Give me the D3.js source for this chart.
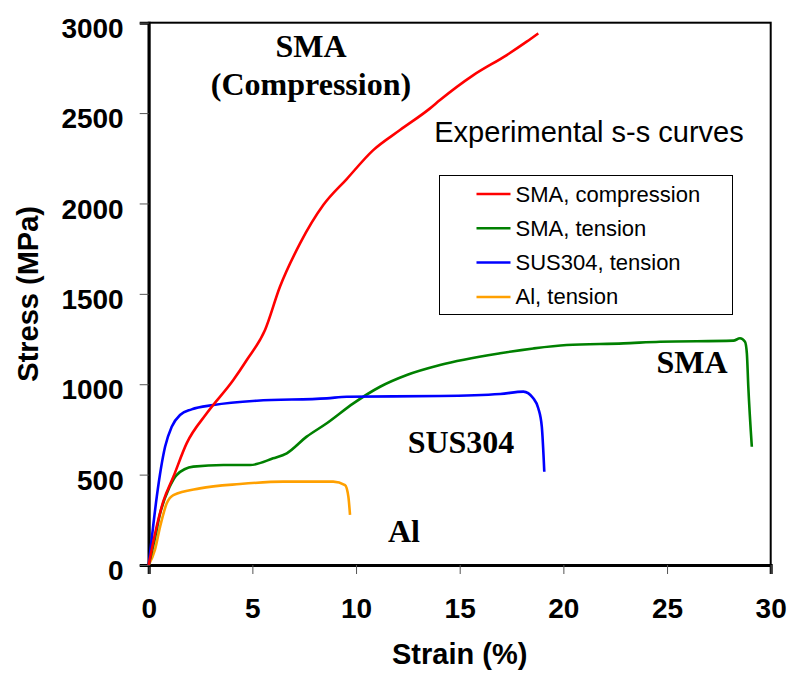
<!DOCTYPE html>
<html>
<head>
<meta charset="utf-8">
<script src="https://cdn.jsdelivr.net/npm/d3@7"></script>
<style>
  body { margin:0; background:#fff; }
  text { font-family: "Liberation Sans", Arial, sans-serif; }
  .tick text { font-weight:bold; font-size:28px; }
  .serif { font-family: "Liberation Serif", "Times New Roman", serif; font-weight:bold; font-size:32px; }
</style>
</head>
<body>
<div id="canvas"></div>
<script>
// series data (strain %, stress MPa)
var smaCompStrain = [0, 0.3, 0.7, 1.19, 1.83, 2.8, 4.08, 4.73, 5.61, 6.33, 7.3, 8.42, 9.55, 10.83, 12.12, 13.57, 14.05, 15.66, 17.27, 18.23, 18.79];
var smaCompStress = [0, 170, 350, 488, 673, 839, 1023, 1134, 1300, 1539, 1779, 1991, 2135, 2295, 2406, 2526, 2572, 2710, 2821, 2895, 2941];

var smaTenStrain = [0, 0.3, 0.55, 1.0, 1.35, 2.15, 3.6, 4.89, 6.0, 6.66, 7.62, 8.59, 9.87, 11.16, 12.45, 14.05, 16.95, 18.55, 20.16, 22.9, 24.66, 28.2, 28.52, 28.76, 28.85, 28.92, 29.09];
var smaTenStress = [0, 150, 285, 430, 498, 544, 553, 553, 590, 618, 710, 784, 894, 986, 1051, 1106, 1171, 1198, 1217, 1226, 1235, 1241, 1254, 1235, 1171, 986, 654];

var susStrain = [0, 0.2, 0.39, 0.79, 1.11, 1.51, 2.07, 3.12, 5.21, 8.59, 9.55, 14.05, 16.95, 18.07, 18.55, 18.79, 18.96, 19.08];
var susStress = [0, 200, 378, 654, 765, 830, 861, 885, 909, 922, 931, 935, 946, 959, 922, 867, 765, 516];

var alStrain = [0, 0.3, 0.55, 0.87, 1.19, 2.47, 4.4, 6.49, 8.9, 9.47, 9.63, 9.71];
var alStress = [0, 83, 212, 341, 387, 424, 448, 461, 461, 442, 378, 277];

var seriesNames = ['SMA, compression', 'SMA, tension', 'SUS304, tension', 'Al, tension'];
var seriesColors = ['#ff0000', '#008000', '#0000ff', '#ffa000'];
var xTicks = [0, 5, 10, 15, 20, 25, 30];
var yTicks = [0, 500, 1000, 1500, 2000, 2500, 3000];

var W = 790, H = 673;
var m = {t:22.7, r:19.3, b:108, l:148.7};
var w = W - m.l - m.r, h = H - m.t - m.b;

var svg = d3.select('#canvas').append('svg')
    .attr('width', W).attr('height', H);
var plot = svg.append('g')
    .attr('transform', 'translate(' + m.l + ',' + m.t + ')');

var scaleX = d3.scaleLinear().domain([0, 30]).range([0, w]);
var scaleY = d3.scaleLinear().domain([0, 3000]).range([h, 0]);

// frame (top + right)
plot.append('rect')
    .attr('x', 0).attr('y', 0).attr('width', w).attr('height', h)
    .attr('fill', 'none').attr('stroke', '#000').attr('stroke-width', 2);

var axisX = d3.axisBottom(scaleX).tickValues(xTicks).tickSize(9).tickPadding(24).tickFormat(d3.format('d'));
var axisY = d3.axisLeft(scaleY).tickValues(yTicks).tickSize(9).tickPadding(16).tickFormat(d3.format('d'));

var gx = plot.append('g').attr('transform', 'translate(0,' + h + ')').call(axisX);
var gy = plot.append('g').call(axisY);
[gx, gy].forEach(function(g){
  g.select('.domain').attr('stroke', '#000').attr('stroke-width', 3);
  g.selectAll('.tick line').attr('stroke', '#555').attr('stroke-width', 1);
  g.selectAll('.tick text').attr('fill', '#000');
});
gy.selectAll('.tick text').attr('dy', '0.52em');

// curves
var allData = [
  d3.zip(smaCompStrain, smaCompStress),
  d3.zip(smaTenStrain, smaTenStress),
  d3.zip(susStrain, susStress),
  d3.zip(alStrain, alStress)
];
var line = d3.line()
    .curve(d3.curveMonotoneX)
    .x(function(d){ return scaleX(d[0]); })
    .y(function(d){ return scaleY(d[1]); });

// draw back to front so red is on top like the original
[3, 1, 2, 0].forEach(function(i){
  plot.append('path')
      .datum(allData[i])
      .attr('d', line)
      .attr('fill', 'none')
      .attr('stroke', seriesColors[i])
      .attr('stroke-width', 2.6)
      .attr('stroke-linejoin', 'round');
});

// legend
var lg = svg.append('g').attr('transform', 'translate(439.5,175.5)');
lg.append('rect').attr('width', 293).attr('height', 139)
    .attr('fill', '#fff').attr('stroke', '#000').attr('stroke-width', 1);
var rows = lg.selectAll('g.row').data(seriesNames).enter().append('g')
    .attr('transform', function(d, i){ return 'translate(0,' + (18.5 + i * 34.3) + ')'; });
rows.append('line').attr('x1', 37).attr('x2', 71)
    .attr('stroke', function(d, i){ return seriesColors[i]; }).attr('stroke-width', 2.5);
rows.append('text').attr('x', 76).attr('y', 7.5)
    .style('font-size', '22px').text(function(d){ return d; });

// texts
svg.append('text').attr('x', 589).attr('y', 142).attr('text-anchor', 'middle')
    .style('font-size', '29px').text('Experimental s-s curves');

svg.append('text').attr('class', 'serif').attr('x', 311).attr('y', 57).attr('text-anchor', 'middle').text('SMA');
svg.append('text').attr('class', 'serif').attr('x', 311).attr('y', 95).attr('text-anchor', 'middle').text('(Compression)');
svg.append('text').attr('class', 'serif').attr('x', 692).attr('y', 373).attr('text-anchor', 'middle').text('SMA');
svg.append('text').attr('class', 'serif').attr('x', 461).attr('y', 453).attr('text-anchor', 'middle').text('SUS304');
svg.append('text').attr('class', 'serif').attr('x', 404).attr('y', 542).attr('text-anchor', 'middle').text('Al');

// axis titles
svg.append('text').attr('x', m.l + w / 2).attr('y', 664).attr('text-anchor', 'middle')
    .style('font-size', '29px').style('font-weight', 'bold').text('Strain (%)');
svg.append('text').attr('transform', 'translate(38,' + (m.t + h / 2) + ') rotate(-90)')
    .attr('text-anchor', 'middle')
    .style('font-size', '29px').style('font-weight', 'bold').text('Stress (MPa)');
</script>
</body>
</html>
